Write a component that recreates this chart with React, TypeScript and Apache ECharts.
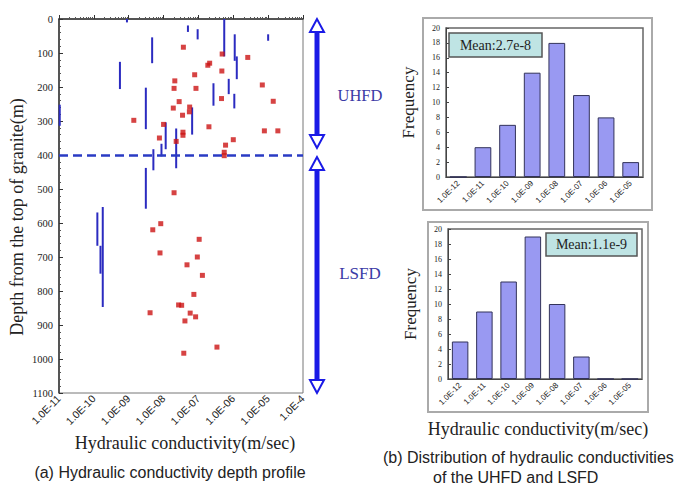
import React, { useEffect, useRef } from "react";
import * as echarts from "echarts";

// ---- (a) depth profile data ----
// point measurements: hydraulic conductivity (m/s) and depth (m)
const pointK = [
  3.7e-8, 4.8e-7, 2.6e-6, 2.1e-7, 1.86e-7, 4.7e-7, 7.8e-8, 2.1e-8, 2.0e-8, 8.5e-8,
  6.8e-6, 1.4e-5, 2.8e-8, 4.6e-7, 1.9e-8, 5.6e-8, 5.5e-8, 3.5e-8, 1.4e-9, 1.0e-8,
  2.0e-7, 7.8e-6, 1.9e-5, 3.6e-8, 3.6e-8, 7.6e-9, 2.3e-8, 1.0e-6, 6.0e-7, 5.5e-7,
  5.5e-7, 2.0e-8,
  8.3e-9, 4.9e-9, 1.05e-7, 7.9e-9, 9.3e-8, 4.7e-8, 1.3e-7, 7.4e-8, 2.7e-8, 3.3e-8,
  4.1e-9, 5.8e-8, 8.3e-8, 4.1e-8, 3.4e-7, 3.8e-8,
];
const pointDepth = [
  83, 103, 113, 130, 136, 153, 164, 182, 204, 204,
  194, 242, 243, 234, 262, 259, 273, 283, 298, 310,
  317, 329, 329, 333, 342, 350, 360, 355, 371, 392,
  402, 511,
  602, 620, 648, 688, 700, 723, 754, 810, 841, 842,
  864, 865, 876, 888, 965, 983,
];
// interval measurements: conductivity, top depth, bottom depth
const intervalK = [
  8.9e-10, 5.0e-8, 9.5e-8, 5.5e-7, 1.1e-6, 1.26e-6, 1.0e-5, 4.7e-9, 5.6e-10, 7.4e-7,
  2.7e-7, 1.07e-6, 3.1e-9, 1.05e-11, 6.6e-8, 1.15e-8, 2.3e-8, 8.7e-9, 5.1e-9, 3.1e-9,
  1.26e-10, 1.55e-10, 1.8e-10,
];
const intervalTop = [
  0, 19, 30, 0, 45, 110, 45, 54, 126, 176,
  189, 220, 202, 252, 260, 304, 322, 367, 383, 438,
  569, 667, 553,
];
const intervalBottom = [
  10, 38, 60, 110, 123, 177, 64, 130, 206, 221,
  255, 263, 324, 314, 340, 383, 439, 404, 445, 558,
  667, 749, 847,
];
const boundaryDepth = 400;
const profileTickLabels = ["1.0E-11", "1.0E-10", "1.0E-09", "1.0E-08", "1.0E-07", "1.0E-06", "1.0E-05", "1.0E-4"];

// ---- (b) histograms ----
const histCategories = ["1.0E-12", "1.0E-11", "1.0E-10", "1.0E-09", "1.0E-08", "1.0E-07", "1.0E-06", "1.0E-05"];
const uhfdFreq = [0, 4, 7, 14, 18, 11, 8, 2];
const lsfdFreq = [5, 9, 13, 19, 10, 3, 0, 0];
const uhfdMean = "Mean:2.7e-8";
const lsfdMean = "Mean:1.1e-9";

const SERIF = "'Liberation Serif', 'Times New Roman', serif";
const SANS = "'Liberation Sans', Arial, sans-serif";

const ARROW = "#1a1ae6";
const LABEL_BLUE = "#3b3ba6";

function arrowElements(x: number, yTop: number, yBot: number) {
  const hw = 7;
  const hh = 13;
  return [
    {
      type: "line",
      shape: { x1: x, y1: yTop + hh, x2: x, y2: yBot - hh },
      style: { stroke: ARROW, lineWidth: 5 },
    },
    {
      type: "polygon",
      shape: { points: [[x, yTop], [x - hw, yTop + hh], [x + hw, yTop + hh]] },
      style: { fill: "#fff", stroke: ARROW, lineWidth: 2 },
    },
    {
      type: "polygon",
      shape: { points: [[x, yBot], [x - hw, yBot - hh], [x + hw, yBot - hh]] },
      style: { fill: "#fff", stroke: ARROW, lineWidth: 2 },
    },
  ];
}

function histAxes(gridIndex: number, showName: boolean) {
  const xAxis: any = {
    type: "category",
    gridIndex,
    data: histCategories,
    axisLine: { lineStyle: { color: "#444", width: 1 } },
    axisTick: { show: false },
    axisLabel: { rotate: 45, fontSize: 8, fontFamily: SANS, color: "#222", margin: 5, interval: 0 },
  };
  if (showName) {
    xAxis.name = "Hydraulic conductivity(m/sec)";
    xAxis.nameLocation = "middle";
    xAxis.nameGap = 41;
    xAxis.nameTextStyle = { fontSize: 18, fontFamily: SERIF, color: "#222", padding: [0, 14, 0, 0] };
  }
  const yAxis: any = {
    type: "value",
    gridIndex,
    min: 0,
    max: 20,
    interval: 2,
    name: "Frequency",
    nameLocation: "middle",
    nameGap: 29,
    nameRotate: 90,
    nameTextStyle: { fontSize: 17, fontFamily: SERIF, color: "#222" },
    axisLine: { show: true, lineStyle: { color: "#444", width: 1 } },
    axisTick: { show: true, inside: true, length: 3, lineStyle: { color: "#444" } },
    axisLabel: { fontSize: 8, fontFamily: SERIF, color: "#222", margin: 6 },
    splitLine: { show: false },
  };
  return { xAxis, yAxis };
}

export default function App() {
  const ref = useRef<HTMLDivElement>(null);

  useEffect(() => {
    document.body.style.margin = "0";
    const chart = echarts.init(ref.current!, null, { renderer: "svg" });

    const points = pointK.map((k, i) => [k, pointDepth[i]]);
    const intervals = intervalK.map((k, i) => [k, intervalTop[i], intervalBottom[i]]);

    const h1 = histAxes(1, false);
    const h2 = histAxes(2, true);

    const option: any = {
      animation: false,
      backgroundColor: "#fff",
      grid: [
        { left: 59, top: 19, width: 244, height: 374, show: true, borderColor: "#777", borderWidth: 1 },
        { left: 446, top: 28, width: 197, height: 149, show: true, borderColor: "#666", borderWidth: 1.5 },
        { left: 448, top: 229, width: 194, height: 150, show: true, borderColor: "#666", borderWidth: 1.5 },
      ],
      xAxis: [
        {
          type: "log",
          logBase: 10,
          gridIndex: 0,
          min: 1e-11,
          max: 1e-4,
          name: "Hydraulic conductivity(m/sec)",
          nameLocation: "middle",
          nameGap: 40,
          nameTextStyle: { fontSize: 18, fontFamily: SERIF, color: "#222", padding: [0, 0, 0, 8] },
          axisLine: { lineStyle: { color: "#333", width: 1.5 } },
          axisTick: { show: true, inside: true, length: 4, lineStyle: { color: "#333" } },
          minorTick: { show: true, splitNumber: 9, length: 2, lineStyle: { color: "#555" } },
          axisLabel: {
            rotate: 45,
            fontSize: 10.5,
            fontFamily: SANS,
            color: "#222",
            margin: 4,
            formatter: (v: number) => profileTickLabels[Math.round(Math.log10(v)) + 11] ?? "",
          },
          splitLine: { show: false },
        },
        h1.xAxis,
        h2.xAxis,
      ],
      yAxis: [
        {
          type: "value",
          gridIndex: 0,
          inverse: true,
          min: 0,
          max: 1100,
          interval: 100,
          name: "Depth from the top of granite(m)",
          nameLocation: "middle",
          nameGap: 33,
          nameRotate: 90,
          nameTextStyle: { fontSize: 18, fontFamily: SERIF, color: "#222", padding: [0, 22, 0, 0] },
          axisLine: { show: true, lineStyle: { color: "#333", width: 1.5 } },
          axisTick: { show: true, inside: true, length: 4, lineStyle: { color: "#333" } },
          minorTick: { show: true, splitNumber: 5, length: 2, lineStyle: { color: "#555" } },
          axisLabel: { fontSize: 10.5, fontFamily: SERIF, color: "#222", margin: 6, formatter: (v: number) => String(v) },
          splitLine: { show: false },
        },
        h1.yAxis,
        h2.yAxis,
      ],
      series: [
        {
          type: "custom",
          xAxisIndex: 0,
          yAxisIndex: 0,
          data: intervals,
          encode: { x: 0, y: [1, 2] },
          renderItem: (params: any, api: any) => {
            const p1 = api.coord([api.value(0), api.value(1)]);
            const p2 = api.coord([api.value(0), api.value(2)]);
            return {
              type: "line",
              shape: { x1: p1[0], y1: p1[1], x2: p2[0], y2: p2[1] },
              style: { stroke: "#2b2bc0", lineWidth: 2 },
            };
          },
          z: 3,
        },
        {
          type: "scatter",
          xAxisIndex: 0,
          yAxisIndex: 0,
          data: points,
          symbol: "rect",
          symbolSize: 5,
          itemStyle: { color: "#cc1414" },
          z: 4,
          markLine: {
            silent: true,
            symbol: "none",
            label: { show: false },
            lineStyle: { color: "#2a3bc4", type: [9, 5], width: 2.5 },
            data: [{ yAxis: boundaryDepth }],
          },
        },
        {
          type: "bar",
          xAxisIndex: 1,
          yAxisIndex: 1,
          data: uhfdFreq,
          barWidth: "68%",
          itemStyle: { color: "#9999f2", borderColor: "#33335a", borderWidth: 1 },
        },
        {
          type: "bar",
          xAxisIndex: 2,
          yAxisIndex: 2,
          data: lsfdFreq,
          barWidth: "68%",
          itemStyle: { color: "#9999f2", borderColor: "#33335a", borderWidth: 1 },
        },
      ],
      graphic: [
        // arrows marking the two domains
        ...arrowElements(317, 19, 148),
        ...arrowElements(317, 157, 393),
        { type: "text", x: 360, y: 95, style: { text: "UHFD", fontSize: 16.5, fontFamily: SERIF, fill: LABEL_BLUE, align: "center", verticalAlign: "middle" } },
        { type: "text", x: 360, y: 273, style: { text: "LSFD", fontSize: 17, fontFamily: SERIF, fill: LABEL_BLUE, align: "center", verticalAlign: "middle" } },
        // histogram outer frames
        { type: "rect", shape: { x: 423, y: 18, width: 229, height: 192 }, style: { fill: "none", stroke: "#aaa", lineWidth: 2 }, z: -1 },
        { type: "rect", shape: { x: 428, y: 222, width: 220, height: 190 }, style: { fill: "none", stroke: "#aaa", lineWidth: 2 }, z: -1 },
        // mean boxes
        { type: "rect", shape: { x: 449, y: 33, width: 93, height: 24 }, style: { fill: "#bfe4e4", stroke: "#555", lineWidth: 1.5 }, z: 10 },
        { type: "text", x: 495.5, y: 45.5, z: 11, style: { text: uhfdMean, fontSize: 14, fontFamily: SERIF, fill: "#222", align: "center", verticalAlign: "middle" } },
        { type: "rect", shape: { x: 546, y: 233, width: 91, height: 23 }, style: { fill: "#bfe4e4", stroke: "#555", lineWidth: 1.5 }, z: 10 },
        { type: "text", x: 591.5, y: 244.5, z: 11, style: { text: lsfdMean, fontSize: 14, fontFamily: SERIF, fill: "#222", align: "center", verticalAlign: "middle" } },
        // captions
        { type: "text", x: 170, y: 472, style: { text: "(a) Hydraulic conductivity depth profile", fontSize: 16, fontFamily: SANS, fill: "#222", align: "center", verticalAlign: "middle" } },
        { type: "text", x: 383, y: 457, style: { text: "(b) Distribution of hydraulic conductivities", fontSize: 16, fontFamily: SANS, fill: "#222", align: "left", verticalAlign: "middle" } },
        { type: "text", x: 433, y: 477, style: { text: "of the UHFD and LSFD", fontSize: 16, fontFamily: SANS, fill: "#222", align: "left", verticalAlign: "middle" } },
      ],
    };

    chart.setOption(option);
    return () => chart.dispose();
  }, []);

  return <div ref={ref} style={{ width: 686, height: 500 }} />;
}
